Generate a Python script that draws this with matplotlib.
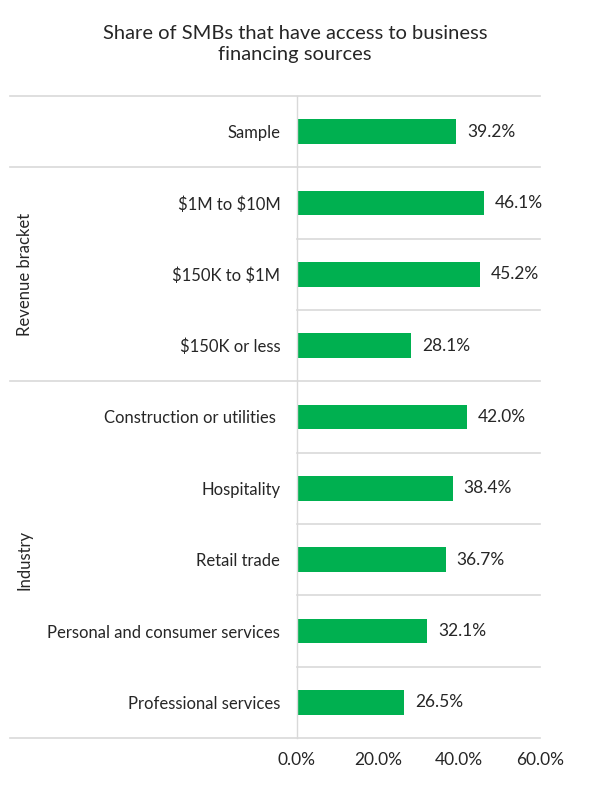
import matplotlib.pyplot as plt
import matplotlib.transforms as mtransforms

categories = [
    "Sample",
    "$1M to $10M",
    "$150K to $1M",
    "$150K or less",
    "Construction or utilities ",
    "Hospitality",
    "Retail trade",
    "Personal and consumer services",
    "Professional services",
]
values = [39.2, 46.1, 45.2, 28.1, 42.0, 38.4, 36.7, 32.1, 26.5]
groups = [("Revenue bracket", 1, 3), ("Industry", 4, 8)]
xticks = [0, 20, 40, 60]

plt.rcParams["font.family"] = ["Lato", "DejaVu Sans"]
plt.rcParams["text.parse_math"] = False
green = "#00B050"
grid_c = "#D9D9D9"
text_c = "#262626"

fig = plt.figure(figsize=(5.9, 7.86), dpi=100)
ax = fig.add_axes([297 / 590, 48 / 786, 243 / 590, 642 / 786])

ypos = list(range(len(categories)))
ax.barh(ypos, values, height=0.35, color=green)
ax.set_xlim(0, 60)
ax.set_ylim(len(categories) - 0.5, -0.5)

ax.set_yticks(ypos)
ax.set_yticklabels(categories, fontsize=12, color=text_c)
ax.set_xticks(xticks)
ax.set_xticklabels([f"{t:.1f}%" for t in xticks], fontsize=12.5, color=text_c)
ax.tick_params(axis="both", length=0)
ax.tick_params(axis="y", pad=12)
ax.tick_params(axis="x", pad=10)

for s in ["top", "right", "bottom"]:
    ax.spines[s].set_visible(False)
ax.spines["left"].set_color(grid_c)
ax.spines["left"].set_linewidth(1)

for y, v in zip(ypos, values):
    ax.annotate(f"{v:.1f}%", (v, y), xytext=(8, 0), textcoords="offset points",
                ha="left", va="center", fontsize=12.5, color=text_c)

trans = mtransforms.blended_transform_factory(ax.transAxes, ax.transData)
left_x = (10 - 297) / 243
group_edges = {-0.5, 0.5, 3.5, len(categories) - 0.5}
for k in range(len(categories) + 1):
    yb = k - 0.5
    x0 = left_x if yb in group_edges else 0
    ax.plot([x0, 1], [yb, yb], transform=trans, color=grid_c, lw=1.2,
            clip_on=False)

for name, a, b in groups:
    ax.text((25 - 297) / 243, (a + b) / 2, name,
            transform=trans, rotation=90, ha="center", va="center",
            fontsize=12, color=text_c)

fig.text(0.5, 1 - 44 / 786, "Share of SMBs that have access to business\nfinancing sources",
         ha="center", va="center", fontsize=14.5, color=text_c, linespacing=1.25)

fig.savefig("out.png", dpi=100)
